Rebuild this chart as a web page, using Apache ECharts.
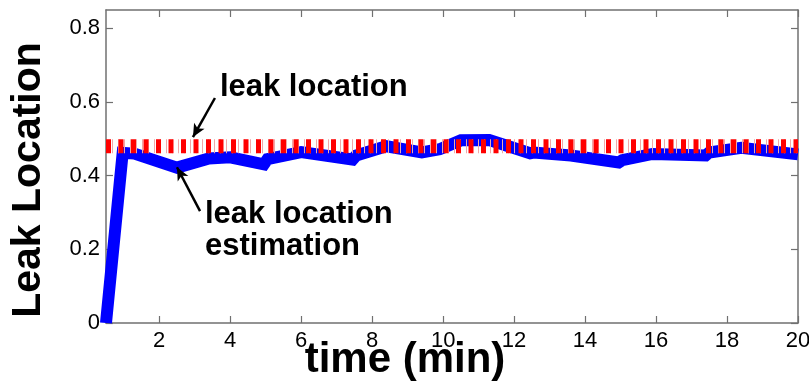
<!DOCTYPE html>
<html>
<head>
<meta charset="utf-8">
<script src="https://cdn.jsdelivr.net/npm/echarts@6/dist/echarts.min.js"></script>
<style>
  html, body { margin: 0; padding: 0; background: #fff; }
  #chart { width: 809px; height: 381px; }
</style>
</head>
<body>
<div id="chart"></div>
<script>
// Estimated leak position over time (normalised pipe length)
const timeMin = [0.5, 0.97, 1.3, 2.5, 3.4, 4.0, 4.95, 5.05, 6.0, 7.45, 7.55, 8.4, 9.4, 9.9, 10.5, 11.3, 12.45, 12.55, 13.6, 14.95, 15.05, 15.9, 17.4, 17.5, 18.4, 20];
const estimate = [0, 0.462, 0.46, 0.422, 0.447, 0.45, 0.431, 0.445, 0.464, 0.444, 0.455, 0.48, 0.463, 0.472, 0.496, 0.497, 0.461, 0.463, 0.455, 0.436, 0.442, 0.459, 0.455, 0.463, 0.476, 0.458];
// True leak position
const leakLocation = 0.48;
const xRange = [0.5, 20];
const xTicks = [2, 4, 6, 8, 10, 12, 14, 16, 18, 20];
const yTicks = [0, 0.2, 0.4, 0.6, 0.8];
const yMax = 0.85;

const font = '"Liberation Sans", Arial, Helvetica, sans-serif';
const frame = '#707070';

const chart = echarts.init(document.getElementById('chart'), null, { renderer: 'canvas' });

const estData = timeMin.map((t, i) => [t, estimate[i]]);
const leakData = xRange.map(t => [t, leakLocation]);

const baseX = {
  type: 'value', min: xRange[0], max: xRange[1],
  splitLine: { show: false },
  axisLine: { show: true, onZero: false, lineStyle: { color: frame, width: 1.5 } },
  axisTick: { show: true, inside: true, length: 7, customValues: xTicks, lineStyle: { color: frame, width: 1.2 } }
};
const baseY = {
  type: 'value', min: 0, max: yMax, interval: 0.2,
  splitLine: { show: false },
  axisLine: { show: true, onZero: false, lineStyle: { color: frame, width: 1.5 } },
  axisTick: { show: true, inside: true, length: 7, customValues: yTicks, lineStyle: { color: frame, width: 1.2 } }
};

chart.setOption({
  animation: false,
  backgroundColor: '#fff',
  grid: { left: 106, right: 11, top: 10, bottom: 58, containLabel: false, outerBoundsMode: 'none' },
  xAxis: [
    Object.assign({}, baseX, {
      position: 'bottom',
      axisLabel: { show: true, customValues: xTicks, margin: 7, fontFamily: font, fontSize: 22, color: '#000' }
    }),
    Object.assign({}, baseX, { position: 'top', axisLabel: { show: false } })
  ],
  yAxis: [
    Object.assign({}, baseY, {
      position: 'left',
      axisLabel: { show: true, customValues: yTicks, margin: 6, fontFamily: font, fontSize: 22, color: '#000' }
    }),
    Object.assign({}, baseY, { position: 'right', axisLabel: { show: false } })
  ],
  series: [
    {
      name: 'leak location estimation',
      type: 'line', data: estData, showSymbol: false, symbol: 'none',
      lineStyle: { color: '#0000ff', width: 12, join: 'miter' },
      markLine: {
        silent: true, symbol: ['none', 'arrow'], symbolSize: [9, 13],
        label: { show: false },
        lineStyle: { color: '#000', width: 2.5, type: 'solid' },
        data: [
          [{ coord: [3.57, 0.611] }, { coord: [2.95, 0.505] }],
          [{ coord: [3.15, 0.304] }, { coord: [2.5, 0.423] }]
        ]
      }
    },
    {
      name: 'leak location (thin)',
      type: 'line', data: leakData, showSymbol: false, symbol: 'none',
      lineStyle: { color: '#f0a8a8', width: 14, type: [1, 5] }
    },
    {
      name: 'leak location',
      type: 'line', data: leakData, showSymbol: false, symbol: 'none',
      lineStyle: { color: '#ff0000', width: 14, type: [5, 7.5] }
    }
  ]
});

// Annotation text, anchored in data coordinates
const p1 = chart.convertToPixel({ gridIndex: 0 }, [3.71, 0.64]);
const p2 = chart.convertToPixel({ gridIndex: 0 }, [3.29, 0.296]);
const txt = { fontFamily: font, fontWeight: 'bold', fontSize: 31, fill: '#000', verticalAlign: 'middle', align: 'left' };
chart.setOption({
  graphic: [
    { type: 'text', x: p1[0], y: p1[1], style: Object.assign({ text: 'leak location' }, txt) },
    { type: 'text', x: p2[0], y: p2[1], style: Object.assign({ text: 'leak location' }, txt) },
    { type: 'text', x: p2[0], y: p2[1] + 32, style: Object.assign({ text: 'estimation' }, txt) },
    // axis titles
    {
      type: 'text', x: 29, y: 180, rotation: Math.PI / 2,
      style: { text: 'Leak Location', fontFamily: font, fontWeight: 'bold', fontSize: 41, fill: '#000', align: 'center', verticalAlign: 'middle' }
    },
    {
      type: 'text', x: 405, y: 360,
      style: { text: 'time (min)', fontFamily: font, fontWeight: 'bold', fontSize: 42, fill: '#000', align: 'center', verticalAlign: 'middle' }
    }
  ]
});
</script>
</body>
</html>
